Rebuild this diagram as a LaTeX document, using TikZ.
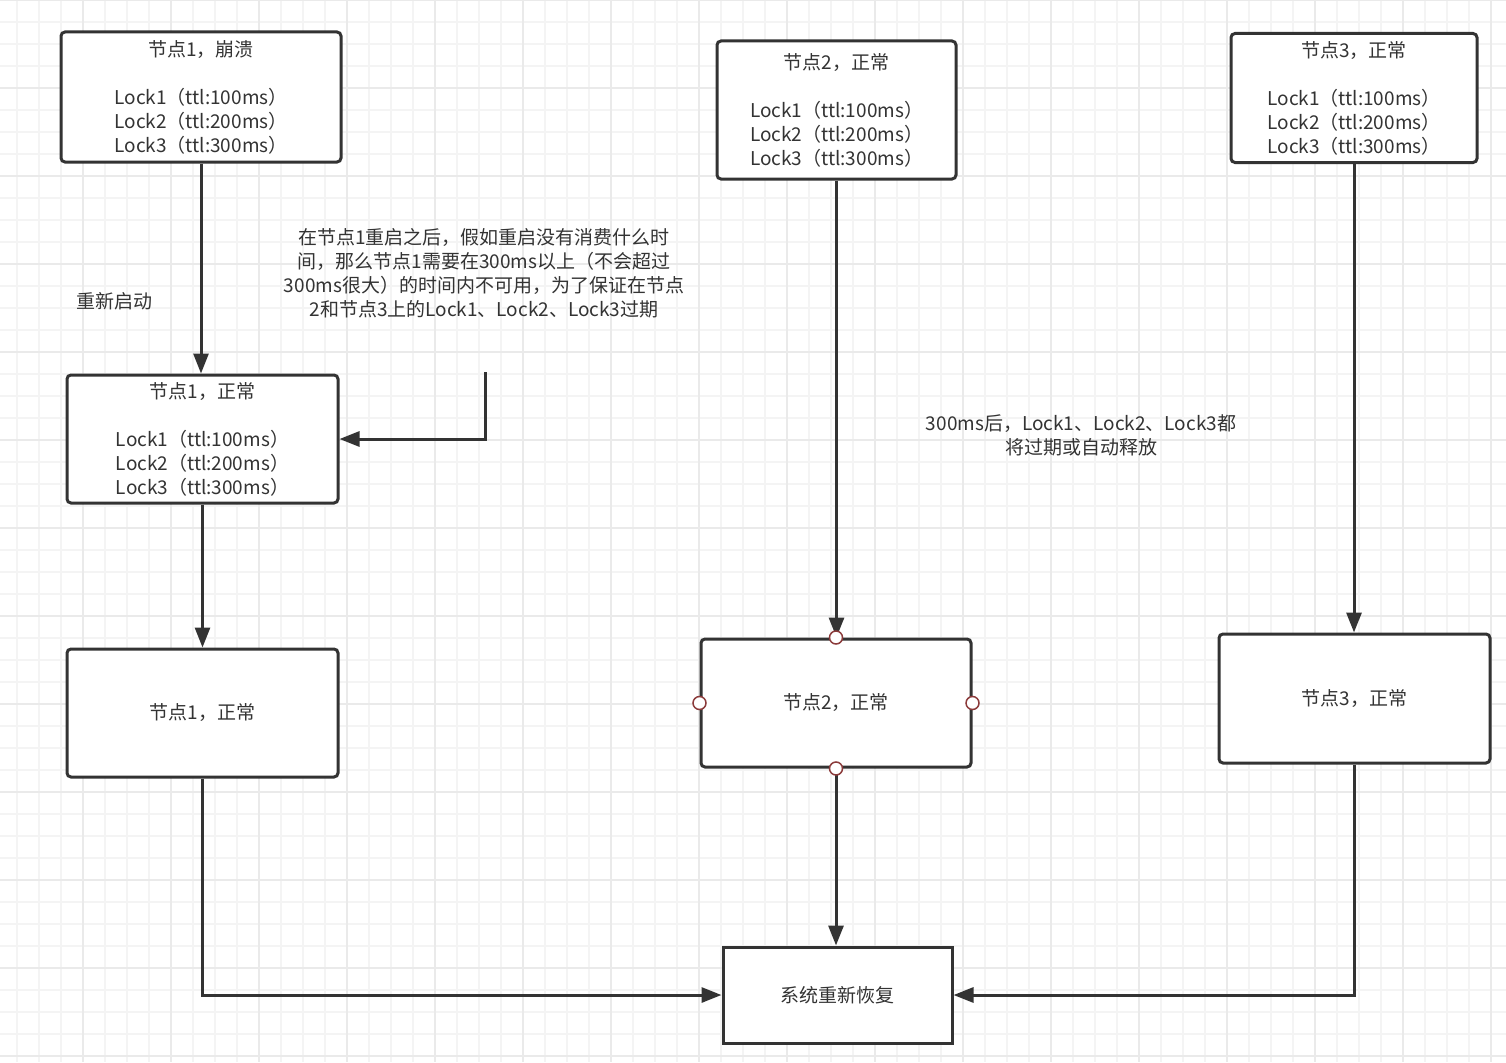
\documentclass[tikz,border=0pt]{standalone}
\usepackage{fontspec}
\setmainfont{Noto Sans CJK SC}
\usetikzlibrary{arrows.meta}
\definecolor{ink}{HTML}{333333}
\definecolor{gridminor}{HTML}{F4F4F4}
\definecolor{gridmajor}{HTML}{EAEAEA}
\definecolor{port}{HTML}{8B3A3A}
\tikzset{
  box/.style={draw=ink, line width=3pt, rounded corners=4pt, fill=white, text=ink, align=center, inner sep=0pt, font=\fontsize{19}{24}\selectfont},
  sharpbox/.style={box, rounded corners=0pt},
  lbl/.style={text=ink, align=center, inner sep=0pt, font=\fontsize{19}{24}\selectfont},
  arr/.style={draw=ink, line width=3pt, -{Triangle[length=20pt,width=15pt]}},
  portc/.style={circle, draw=port, line width=1.5pt, fill=white, minimum size=13pt, inner sep=0pt}
}
\begin{document}
\begin{tikzpicture}[x=1pt,y=-1pt]
\useasboundingbox (0,0) rectangle (1506,1062);
\fill[white] (0,0) rectangle (1506,1062);
% grid
\foreach \gx in {17,39,...,1506} {\draw[gridminor, line width=1.5pt] (\gx,0) -- (\gx,1062);}
\foreach \gy in {0,22,...,1062} {\draw[gridminor, line width=1.5pt] (0,\gy) -- (1506,\gy);}
\foreach \gx in {83,171,...,1506} {\draw[gridmajor, line width=1.5pt] (\gx,0) -- (\gx,1062);}
\foreach \gy in {0,88,...,1062} {\draw[gridmajor, line width=1.5pt] (0,\gy) -- (1506,\gy);}

% nodes
\node[box, minimum width=280pt, minimum height=130pt] (A1) at (201,97)
  {节点1，崩溃\\[24pt]Lock1（ttl:100ms）\\Lock2（ttl:200ms）\\Lock3（ttl:300ms）};
\node[box, minimum width=239pt, minimum height=138pt] (B1) at (836.5,110)
  {节点2，正常\\[24pt]Lock1（ttl:100ms）\\Lock2（ttl:200ms）\\Lock3（ttl:300ms）};
\node[box, minimum width=246pt, minimum height=129pt] (C1) at (1354,98)
  {节点3，正常\\[24pt]Lock1（ttl:100ms）\\Lock2（ttl:200ms）\\Lock3（ttl:300ms）};
\node[box, minimum width=271pt, minimum height=128pt] (A2) at (202.5,439)
  {节点1，正常\\[24pt]Lock1（ttl:100ms）\\Lock2（ttl:200ms）\\Lock3（ttl:300ms）};
\node[box, minimum width=271pt, minimum height=128pt] (A3) at (202.5,713) {节点1，正常};
\node[box, minimum width=270pt, minimum height=128pt] (B2) at (836,703) {节点2，正常};
\node[box, minimum width=271pt, minimum height=129pt] (C2) at (1354.5,698.5) {节点3，正常};
\node[sharpbox, minimum width=229pt, minimum height=96pt] (D) at (837.5,995) {系统重新恢复};

% labels
\node[lbl] (restart) at (114,301) {重新启动};
\node[lbl] (note1) at (484,273) {在节点1重启之后，假如重启没有消费什么时\\间，那么节点1需要在300ms以上（不会超过\\300ms很大）的时间内不可用，为了保证在节点\\2和节点3上的Lock1、Lock2、Lock3过期};
\node[lbl] (note2) at (1081,435) {300ms后，Lock1、Lock2、Lock3都\\将过期或自动释放};

% connectors
\coordinate (p) at (485,372);
\draw[arr] (A1.south) -- (A1.south |- A2.north);
\draw[arr] (p) |- (A2.east);
\draw[arr] (A2.south) -- (A3.north);
\draw[arr] (B1.south) -- (B1.south |- B2.north);
\draw[arr] (C1.south) -- (C1.south |- C2.north);
\draw[arr] (A3.south) |- (D.west);
\draw[arr] (B2.south) -- (B2.south |- D.north);
\draw[arr] (C2.south) |- (D.east);

% ports on B2
\node[portc] (pn) at (B2.north) {};
\node[portc] (pw) at (B2.west) {};
\node[portc] (pe) at (B2.east) {};
\node[portc] (ps) at (B2.south) {};
\end{tikzpicture}
\end{document}
